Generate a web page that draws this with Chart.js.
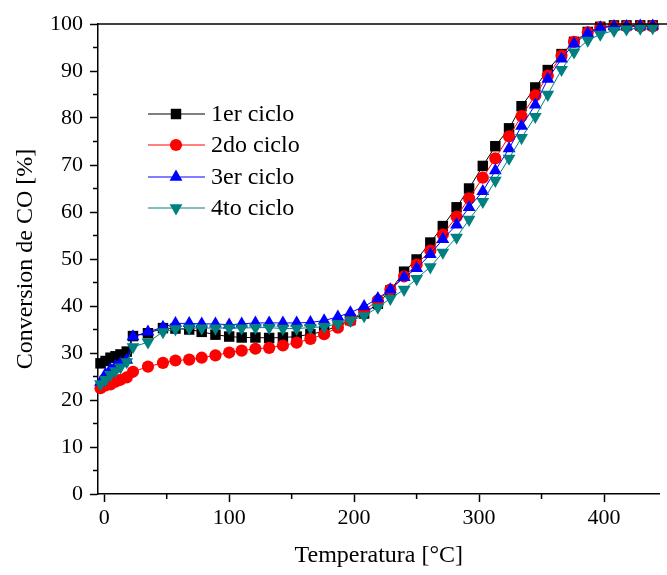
<!DOCTYPE html>
<html>
<head>
<meta charset="utf-8">
<script src="https://cdn.jsdelivr.net/npm/chart.js@4.4.0/dist/chart.umd.min.js"></script>
<style>
  html, body { margin: 0; padding: 0; background: #fff; }
</style>
</head>
<body>
<canvas id="myChart" width="667" height="575"></canvas>
<script>
// temperatures (°C) and CO conversion (%) for each cycle
const temps  = [-3, 1, 5, 9, 13, 18, 23, 35, 47, 57, 68, 78, 89, 100, 110, 121, 132, 143, 154, 165, 176, 187, 197, 208, 219, 229, 240, 250, 261, 271, 282, 292, 303, 313, 324, 334, 345, 355, 366, 376, 387, 397, 408, 418, 429, 439];
const ciclo1 = [27.8, 28.3, 29.0, 29.3, 29.7, 30.3, 33.6, 34.2, 35.3, 35.2, 35.0, 34.5, 33.9, 33.5, 33.3, 33.3, 33.2, 33.3, 33.5, 34.0, 34.6, 35.8, 37.0, 38.4, 40.5, 43.3, 47.3, 49.9, 53.5, 57.0, 61.0, 65.0, 69.8, 74.0, 77.8, 82.5, 86.5, 90.2, 93.6, 96.2, 98.3, 99.4, 99.7, 99.7, 99.7, 99.7];
const ciclo2 = [22.5, 23.1, 23.3, 23.9, 24.3, 24.8, 26.0, 27.1, 27.9, 28.4, 28.6, 29.0, 29.5, 30.1, 30.5, 30.9, 31.1, 31.6, 32.2, 33.0, 34.0, 35.4, 36.9, 39.0, 41.2, 43.5, 46.3, 48.8, 51.8, 55.2, 59.0, 62.9, 67.3, 71.4, 76.1, 80.4, 84.8, 89.0, 93.3, 96.2, 98.2, 99.3, 99.5, 99.5, 99.5, 99.5];
const ciclo3 = [23.8, 25.5, 26.5, 27.2, 27.8, 28.5, 33.5, 34.5, 35.5, 36.3, 36.3, 36.2, 36.2, 36.0, 36.2, 36.4, 36.4, 36.4, 36.4, 36.5, 36.9, 37.7, 38.6, 39.9, 41.6, 43.5, 46.1, 48.0, 51.0, 54.2, 57.3, 61.0, 64.4, 68.8, 73.5, 78.3, 82.8, 88.3, 92.6, 95.8, 98.0, 99.2, 99.5, 99.5, 99.6, 99.6];
const ciclo4 = [23.4, 24.3, 25.4, 26.2, 27.0, 28.1, 31.3, 32.3, 34.5, 35.1, 35.3, 35.3, 35.3, 35.3, 35.3, 35.4, 35.4, 35.2, 35.2, 35.4, 35.6, 36.2, 36.9, 37.9, 39.7, 41.6, 43.5, 45.8, 48.3, 51.4, 54.6, 58.4, 62.2, 66.7, 71.4, 75.8, 80.3, 85.0, 90.3, 94.0, 96.5, 97.8, 98.6, 98.9, 99.1, 99.2];

const seriesNames = ['1er ciclo', '2do ciclo', '3er ciclo', '4to ciclo'];
const xTicks = [0, 100, 200, 300, 400];
const xMinor = [50, 150, 250, 350];
const yTicks = [0, 10, 20, 30, 40, 50, 60, 70, 80, 90, 100];
const yMinor = [5, 15, 25, 35, 45, 55, 65, 75, 85, 95];

const serif = "'Liberation Serif', 'Times New Roman', serif";

function toPoints(vals) {
  return temps.map((t, i) => ({ x: t, y: vals[i] }));
}

function makeSet(label, vals, color, style, radius, rotation, order) {
  return {
    label: label,
    data: toPoints(vals),
    borderColor: color,
    backgroundColor: color,
    borderWidth: 1,
    pointStyle: style,
    pointRadius: radius,
    pointRotation: rotation,
    pointBackgroundColor: color,
    pointBorderWidth: 0,
    tension: 0,
    clip: false,
    order: order
  };
}

const datasets = [
  makeSet(seriesNames[0], ciclo1, '#000000', 'rect', 7.4, 0, 4),
  makeSet(seriesNames[1], ciclo2, '#ff0000', 'circle', 6.1, 0, 3),
  makeSet(seriesNames[2], ciclo3, '#0000ff', 'triangle', 7.4, 0, 2),
  makeSet(seriesNames[3], ciclo4, '#008080', 'triangle', 7.4, 180, 1)
];

// top frame line + minor ticks
const framePlugin = {
  id: 'frame',
  afterDraw(chart) {
    const ctx = chart.ctx;
    const a = chart.chartArea;
    const xs = chart.scales.x, ys = chart.scales.y;
    ctx.save();
    ctx.strokeStyle = '#000';
    ctx.lineWidth = 1.5;
    ctx.beginPath();
    ctx.moveTo(a.left, a.top);
    ctx.lineTo(chart.width, a.top);
    ctx.stroke();
    ctx.beginPath();
    xMinor.forEach(v => {
      const px = xs.getPixelForValue(v);
      ctx.moveTo(px, a.bottom);
      ctx.lineTo(px, a.bottom + 5);
    });
    yMinor.forEach(v => {
      const py = ys.getPixelForValue(v);
      ctx.moveTo(a.left, py);
      ctx.lineTo(a.left - 5, py);
    });
    ctx.stroke();
    ctx.restore();
  }
};

// legend drawn as line + marker, like the original
const legendPlugin = {
  id: 'lineLegend',
  afterDraw(chart) {
    const ctx = chart.ctx;
    const a = chart.chartArea;
    const x0 = a.left + 50, x1 = a.left + 107, xm = a.left + 78, xt = a.left + 113;
    const rows = [114, 145, 177, 208];
    ctx.save();
    chart.data.datasets.forEach((ds, i) => {
      const y = rows[i];
      ctx.strokeStyle = ds.borderColor;
      ctx.lineWidth = 1;
      ctx.beginPath();
      ctx.moveTo(x0, y);
      ctx.lineTo(x1, y);
      ctx.stroke();
      ctx.fillStyle = ds.pointBackgroundColor;
      Chart.helpers.drawPoint(ctx, {
        pointStyle: ds.pointStyle,
        radius: ds.pointRadius,
        rotation: ds.pointRotation,
        borderWidth: 0
      }, xm, y);
      ctx.fillStyle = '#000';
      ctx.font = '24px ' + serif;
      ctx.textBaseline = 'middle';
      ctx.textAlign = 'left';
      ctx.fillText(ds.label, xt, y + 1);
    });
    ctx.restore();
  }
};

const ctx = document.getElementById('myChart').getContext('2d');
const myChart = new Chart(ctx, {
  type: 'line',
  data: { datasets: datasets },
  plugins: [framePlugin, legendPlugin],
  options: {
    responsive: false,
    animation: false,
    devicePixelRatio: 1,
    layout: { padding: { top: 24, left: 0, right: 0, bottom: 0 } },
    plugins: {
      legend: { display: false },
      tooltip: { enabled: false }
    },
    scales: {
      x: {
        type: 'linear',
        min: -5,
        max: 444.5,
        afterBuildTicks: s => { s.ticks = xTicks.map(v => ({ value: v })); },
        afterFit: s => { s.height = 81; },
        grid: { display: true, drawOnChartArea: false, drawTicks: true, tickLength: 8, tickWidth: 1.5, tickColor: '#000' },
        border: { display: true, color: '#000', width: 1.5 },
        ticks: { color: '#000', font: { family: serif, size: 22 }, padding: 3, maxRotation: 0 },
        title: { display: true, text: 'Temperatura [°C]', color: '#000', font: { family: serif, size: 24 }, padding: { top: 0, bottom: 5 } }
      },
      y: {
        type: 'linear',
        min: 0,
        max: 100,
        afterBuildTicks: s => { s.ticks = yTicks.map(v => ({ value: v })); },
        afterFit: s => { s.width = 98; },
        grid: { display: true, drawOnChartArea: false, drawTicks: true, tickLength: 8, tickWidth: 1.5, tickColor: '#000' },
        border: { display: true, color: '#000', width: 1.5 },
        ticks: { color: '#000', font: { family: serif, size: 22 }, padding: 7 },
        title: { display: true, text: 'Conversion de CO [%]', color: '#000', font: { family: serif, size: 24 }, padding: { top: 11, bottom: 0 } }
      }
    }
  }
});
</script>
</body>
</html>
